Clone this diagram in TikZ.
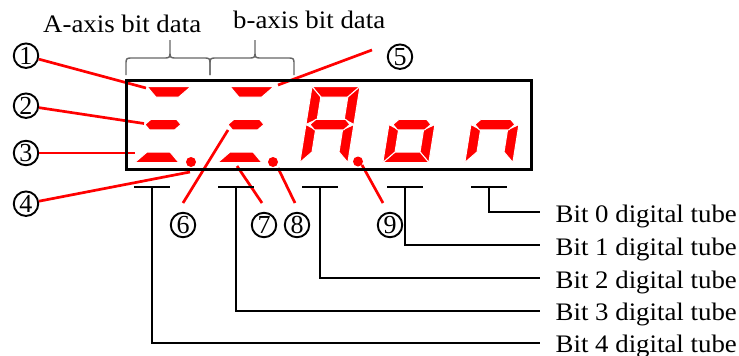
\documentclass[tikz,border=0pt]{standalone}
\usepackage{fontspec}
\setmainfont{Liberation Serif}
\newfontfamily\lblfont[FakeStretch=1.065]{Liberation Serif}
\definecolor{segred}{RGB}{255,0,0}
\newcommand\sgH{76}\newcommand\sgT{10.5}\newcommand\sgG{4}\newcommand\sgHm{38}\newcommand\sgHt{5.25}
\def\sgW{48}
\newcommand\segA{\path[seg] (0,0) -- (\sgW,0) -- ({\sgW-\sgT},\sgT) -- (\sgT,\sgT) -- cycle;}
\newcommand\segB{\path[seg] (\sgW,0) -- (\sgW,\sgHm) -- ({\sgW-\sgT},{\sgHm-\sgHt}) -- ({\sgW-\sgT},\sgT) -- cycle;}
\newcommand\segC{\path[seg] (\sgW,\sgHm) -- (\sgW,\sgH) -- ({\sgW-\sgT},{\sgH-\sgT}) -- ({\sgW-\sgT},{\sgHm+\sgHt}) -- cycle;}
\newcommand\segD{\path[seg] (0,\sgH) -- (\sgT,{\sgH-\sgT}) -- ({\sgW-\sgT},{\sgH-\sgT}) -- (\sgW,\sgH) -- cycle;}
\newcommand\segE{\path[seg] (0,\sgHm) -- (\sgT,{\sgHm+\sgHt}) -- (\sgT,{\sgH-\sgT}) -- (0,\sgH) -- cycle;}
\newcommand\segF{\path[seg] (0,0) -- (\sgT,\sgT) -- (\sgT,{\sgHm-\sgHt}) -- (0,\sgHm) -- cycle;}
\newcommand\segG{\path[seg] (\sgG,\sgHm) -- ({\sgG+\sgHt},{\sgHm-\sgHt}) -- ({\sgW-\sgG-\sgHt},{\sgHm-\sgHt}) -- ({\sgW-\sgG},\sgHm) -- ({\sgW-\sgG-\sgHt},{\sgHm+\sgHt}) -- ({\sgG+\sgHt},{\sgHm+\sgHt}) -- cycle;}
\begin{document}
\begin{tikzpicture}[x=1pt,y=-1pt,
  seg/.style={fill=segred, draw=white, line width=1pt, line join=miter},
  redline/.style={draw=segred, line width=2.7pt},
  blk/.style={draw=black, line width=1.8pt, line join=miter},
  bracepath/.style={draw=black!60, line width=1.4pt},
  circnum/.style={circle, draw=black, line width=1.9pt, minimum size=24.5pt, inner sep=0pt, font=\fontsize{26}{26}\selectfont},
  lbl/.style={anchor=base west, inner sep=0pt, font=\lblfont\fontsize{25.2}{26}\selectfont},
  dotseg/.style={fill=segred}]
\useasboundingbox (0,0) rectangle (739,356);

% axis labels and braces
\node[lbl] (la) at (43,32) {A-axis bit data};
\node[lbl] (lb) at (233,28) {b-axis bit data};
\draw[bracepath] (126,75) -- (126,65) .. controls (126,58) .. (133,58) -- (163,58) .. controls (170,58) .. (170,51) -- (170,40)
  -- (170,51) .. controls (170,58) .. (177,58) -- (203,58) .. controls (210,58) .. (210,65) -- (210,75);
\draw[bracepath] (210,75) -- (210,65) .. controls (210,58) .. (217,58) -- (248,58) .. controls (255,58) .. (255,51) -- (255,40)
  -- (255,51) .. controls (255,58) .. (262,58) -- (287,58) .. controls (294,58) .. (294,65) -- (294,75);

% circled numbers
\node[circnum] (c1) at (26,55.7) {1};
\node[circnum] (c2) at (26,105.7) {2};
\node[circnum] (c3) at (26,153) {3};
\node[circnum] (c4) at (26,203.7) {4};
\node[circnum] (c5) at (400,56.7) {5};
\node[circnum] (c6) at (183,225) {6};
\node[circnum] (c7) at (264,225) {7};
\node[circnum] (c8) at (297,225) {8};
\node[circnum] (c9) at (390,225) {9};

% leader end points
\coordinate (p1) at (146,88);
\coordinate (p2) at (144,123.5);
\coordinate (p3) at (135,153);
\coordinate (p4) at (190,172);
\coordinate (q5) at (372,50);   \coordinate (p5) at (278,85);
\coordinate (q6) at (183,203);  \coordinate (p6) at (228,130);
\coordinate (q7) at (262,203);  \coordinate (p7) at (237,166);
\coordinate (q8) at (295,203);  \coordinate (p8) at (278,168);
\coordinate (q9) at (383,203);  \coordinate (p9) at (362,165);

\draw[redline] (c1) -- (p1);
\draw[redline] (c2) -- (p2);
\draw[redline] (c3) -- (p3);
\draw[redline] (c4) -- (p4);
\draw[redline] (q5) -- (p5);
\draw[redline] (q6) -- (p6);
\draw[redline] (q7) -- (p7);
\draw[redline] (q8) -- (p8);
\draw[redline] (q9) -- (p9);

% display frame
\draw[line width=3pt] (126,80) rectangle (531,169.5);

% digits
\begin{scope}[shift={(147,86.5)}, xslant=0.16]\def\sgW{44}\segA\segG\segD\end{scope}
\begin{scope}[shift={(230,86.5)}, xslant=0.16]\def\sgW{44}\segA\segG\segD\end{scope}
\begin{scope}[shift={(312,86.5)}, xslant=0.16]\def\sgW{48}\segA\segB\segC\segE\segF\segG\end{scope}
\begin{scope}[shift={(395,86.5)}, xslant=0.16]\def\sgW{46}\segC\segD\segE\segG\end{scope}
\begin{scope}[shift={(477,86.5)}, xslant=0.16]\def\sgW{48}\segC\segE\segG\end{scope}
\fill[dotseg] (191,162) circle (5pt);
\fill[dotseg] (273,162) circle (5pt);
\fill[dotseg] (358,161.5) circle (5pt);

% tube markers
\coordinate (t1) at (152,187);
\coordinate (t2) at (236,187);
\coordinate (t3) at (320,187);
\coordinate (t4) at (405,187);
\coordinate (t5) at (489,187);
\foreach \t in {t1,t2,t3,t4,t5}{\draw[blk] ([xshift=-18pt]\t) -- ([xshift=18pt]\t);}

% bit labels
\node[lbl] (b0) at (555.5,222) {Bit 0 digital tube};
\node[lbl] (b1) at (555.5,255) {Bit 1 digital tube};
\node[lbl] (b2) at (555.5,288) {Bit 2 digital tube};
\node[lbl] (b3) at (555.5,320.5) {Bit 3 digital tube};
\node[lbl] (b4) at (555.5,352) {Bit 4 digital tube};
\coordinate (e0) at (540,212);
\coordinate (e1) at (540,245);
\coordinate (e2) at (540,278);
\coordinate (e3) at (540,311);
\coordinate (e4) at (540,343);
\draw[blk] (t5) |- (e0);
\draw[blk] (t4) |- (e1);
\draw[blk] (t3) |- (e2);
\draw[blk] (t2) |- (e3);
\draw[blk] (t1) |- (e4);
\end{tikzpicture}
\end{document}
